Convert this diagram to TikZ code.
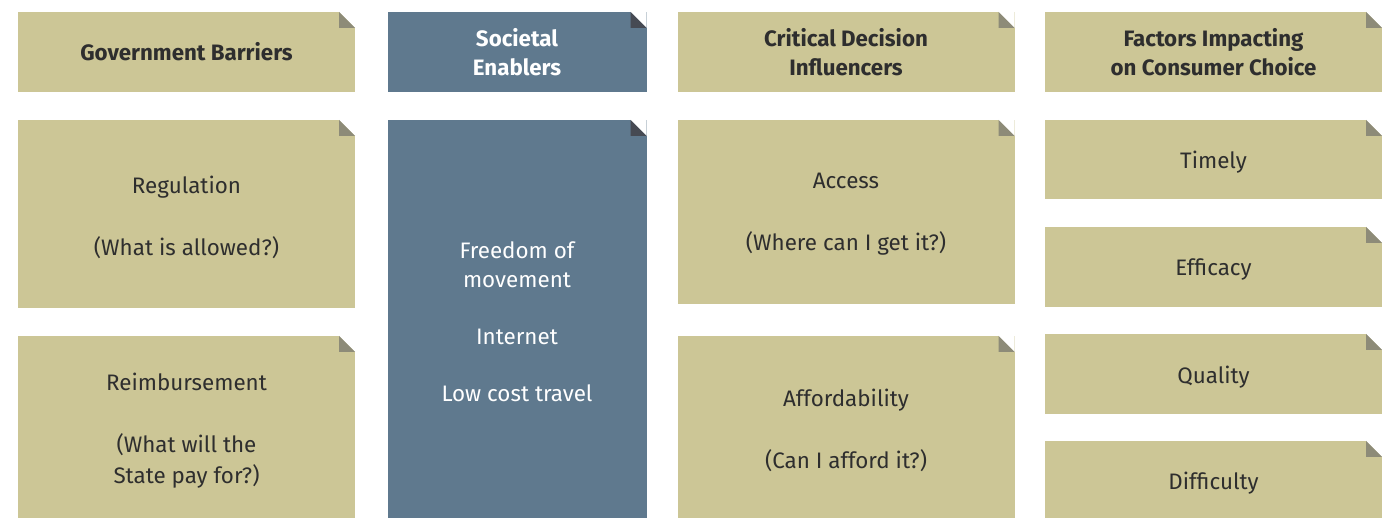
\documentclass[tikz,border=0pt]{standalone}
\usepackage{fontspec}
\setmainfont{Fira Sans}
\definecolor{khaki}{HTML}{CCC696}
\definecolor{khakifold}{HTML}{8D8B78}
\definecolor{slate}{HTML}{5F798E}
\definecolor{slatefold}{HTML}{464A53}
\definecolor{ink}{HTML}{2E2E2E}
\begin{document}
\begin{tikzpicture}[x=1pt,y=-1pt,
  % note card with a folded top-right corner
  note/.style={rectangle, inner sep=0pt, align=center,
    path picture={
      \fill[white] ([xshift=-16pt]path picture bounding box.north east)
        -- (path picture bounding box.north east)
        -- ([yshift=-16pt]path picture bounding box.north east) -- cycle;
      \fill[#1] ([xshift=-16pt]path picture bounding box.north east)
        -- ([xshift=-16pt,yshift=-16pt]path picture bounding box.north east)
        -- ([yshift=-16pt]path picture bounding box.north east) -- cycle;
    }},
  sizebox/.style 2 args={minimum width=#1, minimum height=#2},
  khakicard/.style={note=khakifold, fill=khaki, text=ink},
  slatecard/.style={note=slatefold, fill=slate, text=white},
  cardtext/.style={inner sep=0pt, align=center, text=ink},
  headfont/.style={font=\bfseries\fontsize{22.3}{29}\selectfont},
  bodyfont/.style={font=\fontsize{22.4}{31}\selectfont},
  slatefont/.style={font=\fontsize{22.4}{28.5}\selectfont},
]
\useasboundingbox (0,0) rectangle (1382,518);

% headers
\node[khakicard, headfont, sizebox={337pt}{80pt}] (h1) at (186.5,52) {Government Barriers};
\node[slatecard, headfont, sizebox={259pt}{80pt}] (h2) at (517,52) {Societal\\Enablers};
\node[khakicard, headfont, sizebox={337pt}{80pt}] (h3) at (846,52) {Critical Decision\\Influencers};
\node[khakicard, headfont, sizebox={337pt}{80pt}] (h4) at (1213.5,52) {Factors Impacting\\on Consumer Choice};

% body cards
\node[khakicard, sizebox={337pt}{188pt}] (reg) at (186.5,214) {};
\node[khakicard, sizebox={337pt}{182pt}] (reimb) at (186.5,427) {};
\node[slatecard, sizebox={259pt}{398pt}] (soc) at (517,319) {};
\node[khakicard, sizebox={337pt}{184pt}] (acc) at (846,212) {};
\node[khakicard, sizebox={337pt}{182pt}] (aff) at (846,427) {};
\node[khakicard, sizebox={337pt}{79pt}] (tim) at (1213.5,159.5) {};
\node[khakicard, sizebox={337pt}{80pt}] (eff) at (1213.5,267) {};
\node[khakicard, sizebox={337pt}{80pt}] (qua) at (1213.5,374) {};
\node[khakicard, sizebox={337pt}{77pt}] (dif) at (1213.5,479.5) {};

% card texts, set a little below each card's centre
\node[cardtext, bodyfont] (reg-t) at ([yshift=-3pt]reg.center) {Regulation\\[31pt](What is allowed?)};
\node[cardtext, bodyfont] (reimb-t) at ([yshift=-3.5pt]reimb.center) {Reimbursement\\[31pt](What will the\\State pay for?)};
\node[cardtext, slatefont, text=white] (soc-t) at ([yshift=-2.5pt]soc.center) {Freedom of\\movement\\[28.5pt]Internet\\[28.5pt]Low cost travel};
\node[cardtext, bodyfont] (acc-t) at ([yshift=-2.5pt]acc.center) {Access\\[31pt](Where can I get it?)};
\node[cardtext, bodyfont] (aff-t) at ([yshift=-3pt]aff.center) {Affordability\\[31pt](Can I afford it?)};
\node[cardtext, bodyfont] (tim-t) at ([yshift=-3pt]tim.center) {Timely};
\node[cardtext, bodyfont] (eff-t) at ([yshift=-2.5pt]eff.center) {Efficacy};
\node[cardtext, bodyfont] (qua-t) at ([yshift=-3pt]qua.center) {Quality};
\node[cardtext, bodyfont] (dif-t) at ([yshift=-4pt]dif.center) {Difficulty};
\end{tikzpicture}
\end{document}
